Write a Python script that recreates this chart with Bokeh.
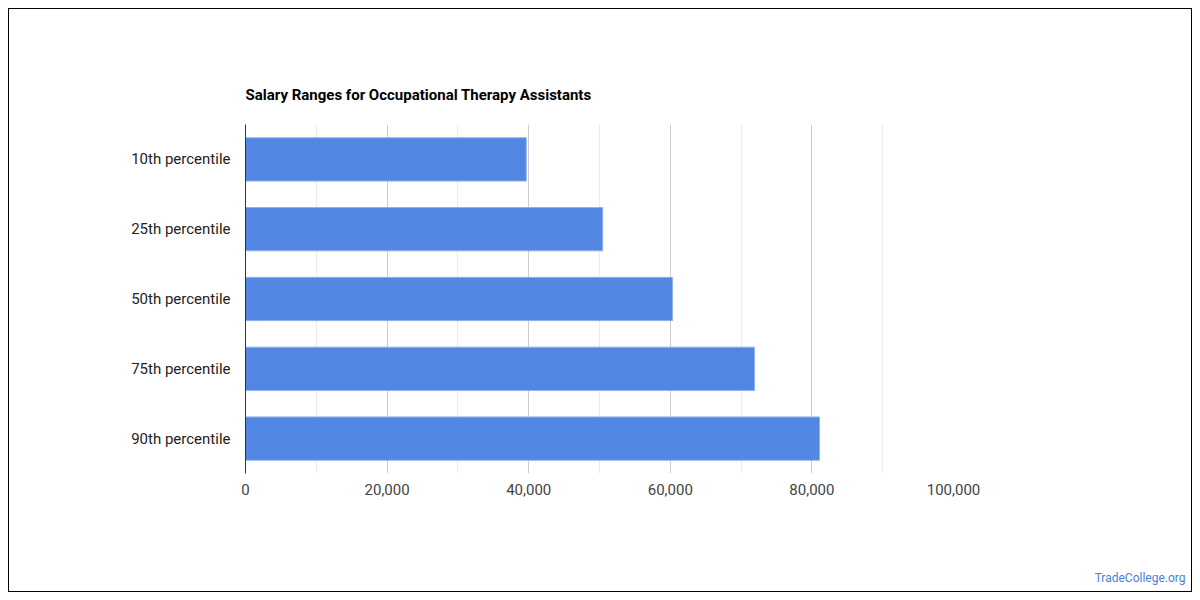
from bokeh.plotting import figure
from bokeh.models import (Range1d, FactorRange, FixedTicker, NumeralTickFormatter,
                          Title, ColumnDataSource)
from bokeh.embed import file_html
from bokeh.resources import INLINE

categories = ["10th percentile", "25th percentile", "50th percentile",
              "75th percentile", "90th percentile"]
salaries = [39660, 50450, 60310, 71900, 81070]
x_ticks = [0, 20000, 40000, 60000, 80000, 100000]
x_minor = [10000, 30000, 50000, 70000, 90000]
title_text = "Salary Ranges for Occupational Therapy Assistants"
credit_text = "TradeCollege.org"

src = ColumnDataSource(dict(cat=categories, val=salaries))

p = figure(width=1184, height=584, output_backend="svg", toolbar_location=None,
           x_range=Range1d(0, 100000),
           y_range=FactorRange(factors=list(reversed(categories)), range_padding=0),
           min_border_left=236, min_border_right=240,
           min_border_top=115, min_border_bottom=120)
p.styles = {"border": "1px solid #000", "box-sizing": "border-box",
            "margin-left": "8px", "margin-top": "8px"}

p.hbar(y="cat", right="val", height=0.62, source=src,
       fill_color="#5286e3", line_color="#8fb0ee", line_width=1)

p.title.text = title_text
p.title.text_font = "Roboto"
p.title.text_font_size = "15px"
p.title.text_font_style = "bold"
p.title.text_color = "#000000"
p.title.standoff = 41

# spacer between the x axis and the credit line
spacer = Title(text=" ", standoff=59, text_font_size="8px")
p.add_layout(spacer, "below")
credit = Title(text=credit_text, align="right", offset=-232, standoff=2,
               text_font="Roboto", text_font_size="12px", text_font_style="normal",
               text_color="#4a7fd4")
p.add_layout(credit, "below")

p.outline_line_color = None
p.background_fill_color = "white"
p.border_fill_color = "white"

xa = p.xaxis[0]
xa.ticker = FixedTicker(ticks=x_ticks, minor_ticks=x_minor)
xa.formatter = NumeralTickFormatter(format="0,0")
xa.axis_line_color = None
xa.major_tick_line_color = None
xa.minor_tick_line_color = None
xa.major_label_text_font = "Roboto"
xa.major_label_text_font_size = "15px"
xa.major_label_text_color = "#444444"
xa.major_label_standoff = 4

ya = p.yaxis[0]
ya.axis_line_color = "#333333"
ya.axis_line_width = 1
ya.major_tick_line_color = None
ya.minor_tick_line_color = None
ya.major_label_text_font = "Roboto"
ya.major_label_text_font_size = "15px"
ya.major_label_text_color = "#222222"
ya.major_label_standoff = 9

p.ygrid.grid_line_color = None
p.xgrid.grid_line_color = "#cccccc"
p.xgrid.minor_grid_line_color = "#ebebeb"

open("out.html", "w").write(file_html(p, INLINE))
